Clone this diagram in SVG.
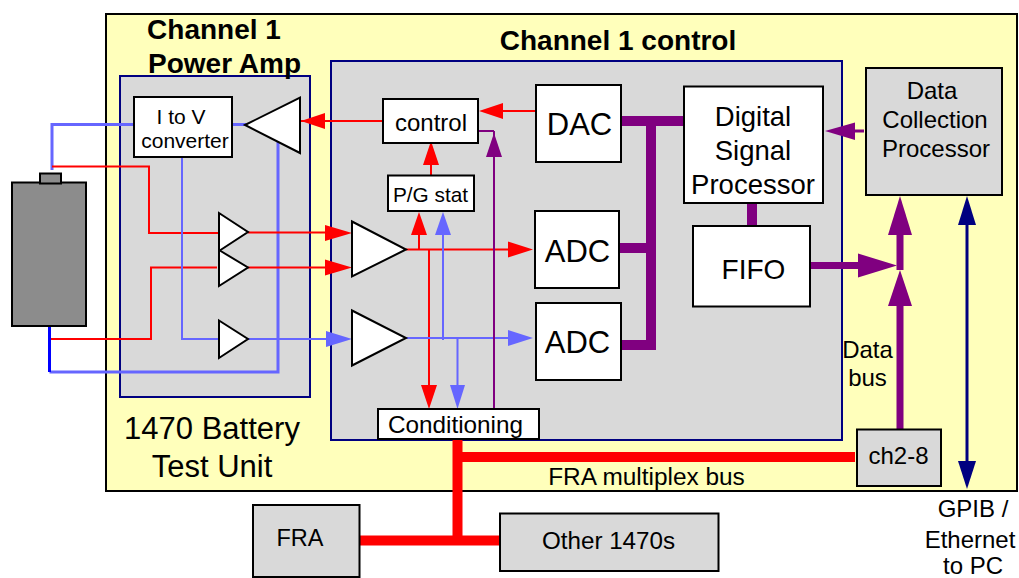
<svg xmlns="http://www.w3.org/2000/svg" width="1019" height="578" viewBox="0 0 1019 578">
<style>
text{font-family:"Liberation Sans",Arial,sans-serif;fill:#000;text-anchor:middle}
.b{fill:#fff;stroke:#000;stroke-width:2}
.g{fill:#d9d9d9;stroke:#000;stroke-width:2}
.p{fill:#d9d9d9;stroke:#000080;stroke-width:2}
.tri{fill:#fff;stroke:#000;stroke-width:2}
.w{fill:none;stroke-linejoin:miter}
.r{stroke:#f00;stroke-width:2}
.l{stroke:#66f;stroke-width:2}
.l3{stroke:#66f;stroke-width:3}
.m{stroke:#800080;stroke-width:10}
.f{stroke:#f00;stroke-width:10}
.hr{fill:#f00}.hl{fill:#66f}.hm{fill:#800080}.hn{fill:#000080}
.t27{font-size:28px;font-weight:bold}
</style>
<rect x="0" y="0" width="1019" height="578" fill="#fff"/>
<g id="test-unit"><rect x="106" y="14" width="911" height="477" fill="#ffffbb" stroke="#000" stroke-width="2"/>
<text x="212" y="439" font-size="31">1470 Battery</text><text x="212" y="477" font-size="31">Test Unit</text></g>
<g id="power-amp"><rect class="p" x="120" y="76" width="190" height="321"/></g>
<g id="control-panel"><rect class="p" x="331" y="61" width="511" height="379"/></g>
<text class="t27" x="214" y="39">Channel 1</text>
<text class="t27" x="224.500" y="73">Power Amp</text>
<text class="t27" x="618" y="50">Channel 1 control</text>
<g id="connectors">
<path class="w l3" d="M52 170V124.500H134M232 124.500H246"/>
<path class="w l3" d="M278 141V372H49.500"/>
<path class="w" stroke="#00f" stroke-width="3" d="M49.500 326V372"/>
<path class="w r" d="M52 166.500H149V233H219M248 232.500H330"/>
<path class="w r" d="M51 339H151V267.500H217M248 267.500H330"/>
<path class="w l" d="M182 157V339H219M248 339H330"/>
<path class="w r" d="M301 121H383M536 111H500M431 178V160"/>
<path class="w r" d="M406 249.500H510M419 249.500V232M429 249.500V388"/>
<path class="w l" d="M406 338H510M443 340V232M457.500 338V388"/>
<path class="w" stroke="#800080" stroke-width="2" d="M476 131H494M494 131V409"/>
<path class="w m" d="M621 121H685M651 121V345H621M619 248H651M752 201V227"/>
<path class="w" stroke="#800080" stroke-width="7" d="M810 265.500H860M900 270V230M900 430V300"/>
<path class="w" stroke="#800080" stroke-width="3" d="M864 131H850"/>
<path class="w" stroke="#000080" stroke-width="3" d="M967 220V465"/>
<path class="w f" d="M457.500 440V541M457 457H855M359 540.500H500"/>
<polygon class="hr" points="301,121 325,113 325,129"/>
<polygon class="hr" points="479,111 503,103 503,119"/>
<polygon class="hr" points="431,141 423,165 439,165"/>
<polygon class="hr" points="352,233 325,225 325,241"/>
<polygon class="hr" points="352,267.500 325,259.500 325,275.500"/>
<polygon class="hl" points="352,339 326,331 326,347"/>
<polygon class="hr" points="533,249.500 508,241.500 508,257.500"/>
<polygon class="hr" points="419,212 411,235 427,235"/>
<polygon class="hl" points="443,212 435,235 451,235"/>
<polygon class="hl" points="533,338 508,330 508,346"/>
<polygon class="hr" points="429,409 421,385 437,385"/>
<polygon class="hl" points="457.500,409 450,385 465,385"/>
<polygon class="hm" points="494,133 486,157 502,157"/>
<polygon class="hm" points="825,131 855,122.500 855,140"/>
<polygon class="hm" points="897,265.500 858,253.500 858,277.500"/>
<polygon class="hm" points="900,196 888,235 912,235"/>
<polygon class="hm" points="900,270 888,306 912,306"/>
<polygon class="hn" points="967,196 958,225 976,225"/>
<polygon class="hn" points="967,489 958,461 976,461"/>
</g>
<g id="battery"><rect x="12" y="182.500" width="74" height="143.500" fill="#8c8c8c" stroke="#000" stroke-width="2"/><rect x="40" y="173.500" width="21" height="10" fill="#8c8c8c" stroke="#000" stroke-width="2"/></g>
<g id="i-to-v"><rect class="b" x="134" y="97" width="98" height="60"/><text x="181" y="124" font-size="21">I to V</text><text x="185" y="148" font-size="21">converter</text></g>
<g id="out-amp"><polygon class="tri" points="245,125 300,97.500 300,153"/></g>
<g id="amp-a"><polygon class="tri" points="219,213 248,232 219,251"/></g>
<g id="amp-b"><polygon class="tri" points="219,250 248,267.500 219,286"/></g>
<g id="amp-c"><polygon class="tri" points="219,320.500 248,339 219,358"/></g>
<g id="amp-d"><polygon class="tri" points="352,221.500 406,249.500 352,276.500"/></g>
<g id="amp-e"><polygon class="tri" points="352,310.500 406,338 352,365.500"/></g>
<g id="control"><rect class="b" x="383" y="99" width="95" height="44"/><text x="431" y="131" font-size="24">control</text></g>
<g id="pg-stat"><rect class="b" x="388" y="175.500" width="86" height="35.500"/><text x="430.500" y="202" font-size="20.800">P/G stat</text></g>
<g id="dac"><rect class="b" x="536" y="85" width="85" height="77"/><text x="579.500" y="135" font-size="31">DAC</text></g>
<g id="adc1"><rect class="b" x="535" y="211" width="84" height="77"/><text x="577.500" y="262" font-size="31">ADC</text></g>
<g id="adc2"><rect class="b" x="536" y="303" width="85" height="77"/><text x="577.500" y="353" font-size="31">ADC</text></g>
<g id="conditioning"><rect class="b" x="378" y="409" width="161" height="30"/><text x="455.500" y="433" font-size="24.300">Conditioning</text></g>
<g id="dsp"><rect class="b" x="684" y="86.500" width="139" height="116.500"/><text x="753" y="126" font-size="27.500">Digital</text><text x="753" y="160" font-size="27.500">Signal</text><text x="753" y="194" font-size="27.500">Processor</text></g>
<g id="fifo"><rect class="b" x="693" y="226" width="117" height="80.500"/><text x="753.500" y="279" font-size="28">FIFO</text></g>
<g id="dcp"><rect class="g" x="866" y="68" width="136" height="127"/><text x="932" y="99" font-size="24">Data</text><text x="935" y="128" font-size="24">Collection</text><text x="936" y="157" font-size="24">Processor</text></g>
<g id="ch2-8"><rect class="g" x="857" y="429.500" width="84" height="56.500"/><text x="898.500" y="464" font-size="24">ch2-8</text></g>
<g id="fra"><rect class="g" x="253" y="505" width="106.500" height="72"/><text x="300" y="546" font-size="23.500">FRA</text></g>
<g id="other"><rect class="g" x="500" y="513.500" width="218.500" height="57.500"/><text x="608.500" y="549" font-size="24.200">Other 1470s</text></g>
<g id="labels">
<text x="867.500" y="358" font-size="24">Data</text><text x="867.500" y="386" font-size="24">bus</text>
<text x="646.500" y="485" font-size="24.400">FRA multiplex bus</text>
<text x="973" y="517" font-size="24">GPIB /</text><text x="970" y="548" font-size="24">Ethernet</text><text x="973" y="574" font-size="24">to PC</text>
</g>
</svg>
